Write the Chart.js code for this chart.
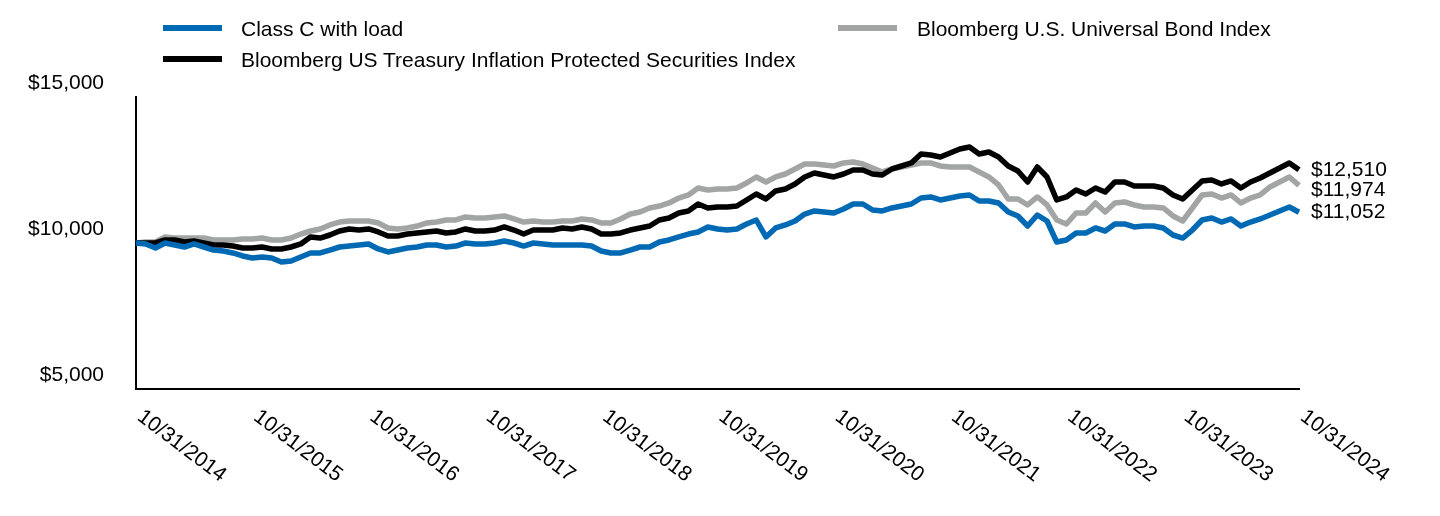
<!DOCTYPE html>
<html>
<head>
<meta charset="utf-8">
<script src="https://cdn.jsdelivr.net/npm/chart.js@4/dist/chart.umd.min.js"></script>
<style>
    body { margin: 0; background: #fff; }
    #wrap { position: relative; width: 1440px; height: 516px; font-family: Arial, 'Liberation Sans', sans-serif; }
    #wrap canvas { position: absolute; left: 0; top: 0; }
    .sw { position: absolute; width: 59px; height: 6px; }
    .lt { position: absolute; font-size: 21px; line-height: 24px; color: #000; white-space: nowrap; }
</style>
</head>
<body>
<div id="wrap">
    <canvas id="mainChart" width="1440" height="516"></canvas>
    <div class="sw" style="left:163px;top:25px;background:#0069b4"></div>
    <div class="lt" style="left:241px;top:17px">Class C with load</div>
    <div class="sw" style="left:838px;top:25px;background:#a2a5a4"></div>
    <div class="lt" style="left:917px;top:17px">Bloomberg U.S. Universal Bond Index</div>
    <div class="sw" style="left:163px;top:56px;background:#000"></div>
    <div class="lt" style="left:241px;top:48px">Bloomberg US Treasury Inflation Protected Securities Index</div>
</div>
<script>
// --- Data (growth of $10,000, month-end values) ---

// month-end dates 10/31/2014 .. 10/31/2024
const months = [];
for (let i = 0; i <= 120; i++) {
    const m = (9 + i) % 12;
    const y = 2014 + Math.floor((9 + i) / 12);
    const d = new Date(y, m + 1, 0).getDate();
    months.push((m + 1) + '/' + d + '/' + y);
}

const tickLabels = ['10/31/2014', '10/31/2015', '10/31/2016', '10/31/2017', '10/31/2018',
    '10/31/2019', '10/31/2020', '10/31/2021', '10/31/2022', '10/31/2023', '10/31/2024'];

const yTicks = [5000, 10000, 15000];

const classC = [
    10000, 9966, 9829, 10000, 9932, 9863, 9966, 9863, 9760, 9726, 9658, 9555,
    9487, 9521, 9487, 9350, 9384, 9521, 9658, 9658, 9760, 9863, 9897, 9932,
    9966, 9795, 9692, 9760, 9829, 9863, 9932, 9932, 9863, 9897, 10000, 9966,
    9966, 10000, 10069, 10000, 9897, 10000, 9966, 9932, 9932, 9932, 9932, 9897,
    9726, 9658, 9658, 9760, 9863, 9863, 10034, 10103, 10206, 10308, 10377, 10548,
    10480, 10445, 10480, 10651, 10788, 10206, 10514, 10617, 10754, 10993, 11096, 11062,
    11028, 11165, 11336, 11336, 11130, 11096, 11199, 11267, 11336, 11541, 11576, 11473,
    11541, 11610, 11644, 11439, 11439, 11370, 11062, 10925, 10582, 10959, 10754, 10034,
    10103, 10343, 10343, 10514, 10411, 10651, 10651, 10548, 10582, 10582, 10514, 10274,
    10171, 10445, 10788, 10856, 10719, 10822, 10582, 10719, 10822, 10959, 11096, 11233,
    11052
];

const tips = [
    10000, 10000, 10000, 10103, 10103, 10034, 10069, 10000, 9932, 9932, 9897, 9829,
    9829, 9863, 9795, 9795, 9863, 9966, 10206, 10171, 10274, 10411, 10480, 10445,
    10480, 10377, 10240, 10240, 10308, 10343, 10377, 10411, 10343, 10377, 10480, 10411,
    10411, 10445, 10548, 10445, 10308, 10445, 10445, 10445, 10514, 10480, 10548, 10480,
    10308, 10308, 10343, 10445, 10514, 10582, 10788, 10856, 11028, 11096, 11336, 11199,
    11233, 11233, 11267, 11473, 11678, 11507, 11781, 11850, 12021, 12261, 12398, 12329,
    12261, 12363, 12500, 12500, 12363, 12329, 12535, 12637, 12740, 13048, 13014, 12945,
    13082, 13219, 13288, 13048, 13117, 12945, 12637, 12466, 12089, 12603, 12261, 11473,
    11576, 11815, 11678, 11884, 11747, 12089, 12089, 11952, 11952, 11952, 11884, 11644,
    11507, 11815, 12124, 12158, 12021, 12124, 11884, 12089, 12226, 12398, 12569, 12740,
    12510
];

const universal = [
    10000, 10034, 10034, 10206, 10171, 10171, 10171, 10171, 10103, 10103, 10103, 10137,
    10137, 10171, 10103, 10103, 10171, 10308, 10411, 10480, 10617, 10719, 10754, 10754,
    10754, 10685, 10514, 10480, 10514, 10582, 10685, 10719, 10788, 10788, 10891, 10856,
    10856, 10891, 10925, 10822, 10719, 10754, 10719, 10719, 10754, 10754, 10822, 10788,
    10685, 10685, 10822, 10993, 11062, 11199, 11267, 11370, 11541, 11644, 11884, 11815,
    11850, 11850, 11884, 12055, 12261, 12089, 12261, 12363, 12535, 12706, 12706, 12672,
    12637, 12740, 12774, 12706, 12569, 12432, 12535, 12603, 12672, 12740, 12740, 12637,
    12603, 12603, 12603, 12432, 12261, 11987, 11507, 11507, 11302, 11576, 11302, 10788,
    10651, 11028, 11028, 11370, 11062, 11370, 11404, 11302, 11233, 11233, 11199, 10925,
    10754, 11199, 11644, 11678, 11541, 11644, 11370, 11541, 11644, 11918, 12089, 12261,
    11974
];

const FONT = "Arial, 'Liberation Sans', sans-serif";

function money(v) {
    return '$' + Math.round(v).toLocaleString('en-US');
}

// rotated date labels under the x axis (text runs down to the right)
const dateLabels = {
    id: 'dateLabels',
    afterDraw(chart) {
        const ctx = chart.ctx;
        const xs = chart.scales.x;
        const base = chart.chartArea.bottom;
        ctx.save();
        ctx.font = '21px ' + FONT;
        ctx.fillStyle = '#000';
        ctx.textAlign = 'left';
        ctx.textBaseline = 'top';
        tickLabels.forEach(t => {
            const idx = months.indexOf(t);
            if (idx < 0) return;
            const x = xs.getPixelForValue(idx);
            ctx.save();
            ctx.translate(x + 10, base + 17);
            ctx.rotate(37 * Math.PI / 180);
            ctx.fillText(t, 0, 0);
            ctx.restore();
        });
        ctx.restore();
    }
};

// ending values at the right of each line
const endLabels = {
    id: 'endLabels',
    afterDatasetsDraw(chart) {
        const ctx = chart.ctx;
        const ys = chart.scales.y;
        const xs = chart.scales.x;
        const last = months.length - 1;
        const items = chart.data.datasets.map(ds => ({
            v: ds.data[last],
            y: ys.getPixelForValue(ds.data[last])
        })).sort((a, b) => a.y - b.y);
        for (let i = 1; i < items.length; i++) {
            items[i].y = Math.max(items[i].y, items[i - 1].y + 20.5);
        }
        ctx.save();
        ctx.font = '21px ' + FONT;
        ctx.fillStyle = '#000';
        ctx.textAlign = 'left';
        ctx.textBaseline = 'middle';
        items.forEach(it => ctx.fillText(money(it.v), xs.getPixelForValue(last) + 12, it.y));
        ctx.restore();
    }
};

const ctxMain = document.getElementById('mainChart').getContext('2d');

new Chart(ctxMain, {
    type: 'line',
    data: {
        labels: months,
        datasets: [
            {
                label: 'Class C with load',
                data: classC,
                borderColor: '#0069b4',
                borderWidth: 5.5
            },
            {
                label: 'Bloomberg US Treasury Inflation Protected Securities Index',
                data: tips,
                borderColor: '#000000',
                borderWidth: 5.5
            },
            {
                label: 'Bloomberg U.S. Universal Bond Index',
                data: universal,
                borderColor: '#a2a5a4',
                borderWidth: 5.5
            }
        ]
    },
    options: {
        responsive: false,
        animation: false,
        devicePixelRatio: 1,
        elements: {
            point: { radius: 0 },
            line: { tension: 0, borderJoinStyle: 'round', borderCapStyle: 'butt' }
        },
        layout: { padding: { left: 0, top: 97, right: 141, bottom: 127 } },
        plugins: {
            legend: { display: false },
            tooltip: { enabled: false }
        },
        scales: {
            x: {
                type: 'category',
                offset: false,
                grid: { display: false, drawTicks: false },
                border: { display: true, color: '#000', width: 2 },
                ticks: { display: false },
                afterFit(scale) { scale.height = 0; }
            },
            y: {
                min: yTicks[0],
                max: yTicks[yTicks.length - 1],
                afterBuildTicks(scale) { scale.ticks = yTicks.map(v => ({ value: v })); },
                grid: { display: false, drawTicks: false, tickLength: 0 },
                border: { display: true, color: '#000', width: 2 },
                ticks: {
                    padding: 32,
                    labelOffset: -14,
                    color: '#000',
                    font: { size: 21, family: FONT },
                    callback: v => money(v)
                },
                afterFit(scale) { scale.width = 136; }
            }
        }
    },
    plugins: [dateLabels, endLabels]
});
</script>
</body>
</html>
